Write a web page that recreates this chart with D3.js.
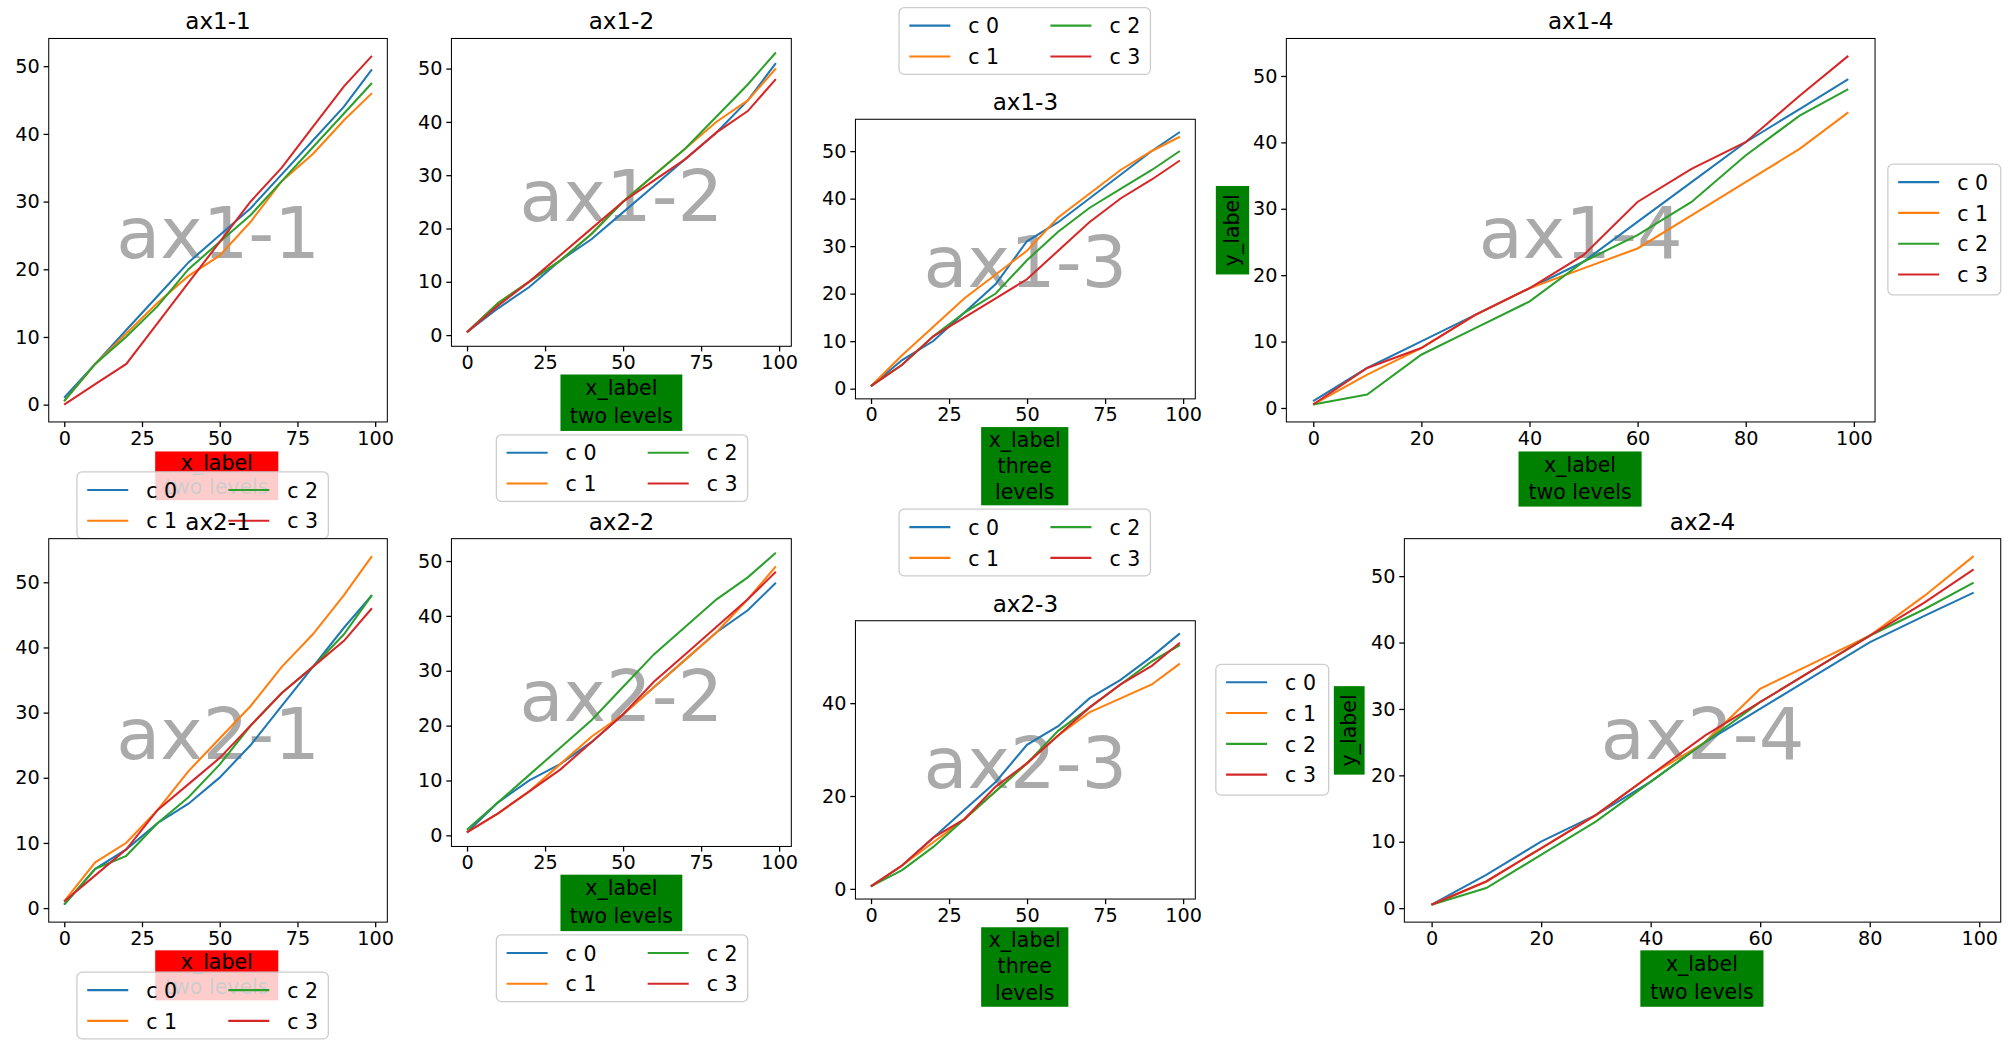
<!DOCTYPE html>
<html><head><meta charset="utf-8">
<script src="https://cdn.jsdelivr.net/npm/d3@7"></script>
<style>body{margin:0;background:#fff}svg{font-family:"DejaVu Sans",sans-serif}</style>
</head><body><svg id="c" width="2011" height="1050" viewBox="0 0 1568 818.7"></svg>
<script>
const xs=[0,10,20,30,40,50,60,70,80,90,99];
const seriesNames=["c 0","c 1","c 2","c 3"];
const colors=["#1f77b4","#ff7f0e","#2ca02c","#d62728"];
const ax1_1=[[1,6,11,16,21,25,29,34,39,44,49.5],[0.5,6,10.5,15,19,22,27,33,37,42,46],[0.5,6,10,14.5,20,24,28,33,38,43,47.5],[0,3,6,12,18,24,30,35,41,47,51.5]];
const ax1_2=[[0.5,5,9,14,18,23,28,33,38,44,51],[0.5,6,10,14,19,25,30,35,40,44,50],[0.5,6,10,14,19,25,30,35,41,47,53],[0.5,5.5,10,15,20,25,29,33,38,42,48]];
const ax1_3=[[0.5,6,10,16,22,31,35,40,45,50,54],[0.5,7,13,19,24,29,36,41,46,50,53],[0.5,5,11,16,20,27,33,38,42,46,50],[0.5,5,11,15,19,23,29,35,40,44,48]];
const ax1_4=[[1,6,10,14,18,22,28,34,40,45,49.5],[0.5,5,9,14,18,21,24,29,34,39,44.5],[0.5,2,8,12,16,22,26,31,38,44,48],[0.5,6,9,14,18,23,31,36,40,47,53]];
const ax2_1=[[0.5,6,9,13,16,20,25,31,37,43,48],[1,7,10,15,21,26,31,37,42,48,54],[0.5,6,8,13,17,22,28,33,37,42,48],[1,5,9,15,19,23,28,33,37,41,46]];
const ax2_2=[[0.5,6,10,13,17,22,27,32,37,41,46],[0.5,4,8,13,18,22,27,32,37,43,49],[1,6,11,16,21,27,33,38,43,47,51.5],[0.5,4,8,12,17,22,28,33,38,43,48]];
const ax2_3=[[0.5,5,11,17,23,31,35,41,45,50,55],[0.5,5,10,15,21,27,33,38,41,44,48.5],[0.5,4,9,15,21,27,34,39,44,49,52.5],[0.5,5,11,15,22,27,33,39,44,48,53]];
const ax2_4=[[0.5,5,10,14,19,25,30,35,40,44,47.5],[0.5,4,9,14,20,25,33,37,41,47,53],[0.5,3,8,13,19,25,31,36,41,45,49],[0.5,4,9,14,20,26,31,36,41,46,51]];
const titles=["ax1-1","ax1-2","ax1-3","ax1-4","ax2-1","ax2-2","ax2-3","ax2-4"];
const xlabels=[["x_label","two levels"],["x_label","two levels"],["x_label","three","levels"],["x_label","two levels"]];
const panels=[
 {t:0,d:ax1_1,b:[38,30,302,329],xt:25,yt:10,xl:{r:[121,352,217,390],c:"red",l:0},lg:{x:60,y:368,cols:2}},
 {t:1,d:ax1_2,b:[352,30,617,270],xt:25,yt:10,xl:{r:[437,292,532,336],c:"green",l:1},lg:{x:387,y:339,cols:2}},
 {t:2,d:ax1_3,b:[667,93,932,311],xt:25,yt:10,xl:{r:[765,333,833,394],c:"green",l:2},lg:{x:701,y:6,cols:2}},
 {t:3,d:ax1_4,b:[1003,30,1462,329],xt:20,yt:10,xl:{r:[1184,352,1280,395],c:"green",l:3},yl:[948,145,974,214],lg:{x:1472,y:128,cols:1}},
 {t:4,d:ax2_1,b:[38,420,302,719],xt:25,yt:10,xl:{r:[121,741,217,780],c:"red",l:0},lg:{x:60,y:758,cols:2}},
 {t:5,d:ax2_2,b:[352,420,617,660],xt:25,yt:10,xl:{r:[437,682,532,726],c:"green",l:1},lg:{x:387,y:729,cols:2}},
 {t:6,d:ax2_3,b:[667,484,932,701],xt:25,yt:20,xl:{r:[765,723,833,785],c:"green",l:2},lg:{x:701,y:397,cols:2}},
 {t:7,d:ax2_4,b:[1095,420,1560,719],xt:20,yt:10,xl:{r:[1279,741,1375,785],c:"green",l:3},yl:[1040,535,1064,604],lg:{x:948,y:518,cols:1}}
];
const svg=d3.select("#c");
panels.forEach(p=>{
 const [x0,y0,x1,y1]=p.b;
 const all=p.d.flat(), mn=d3.min(all), mx=d3.max(all), r=mx-mn;
 const x=d3.scaleLinear().domain([-4.95,103.95]).range([x0,x1]);
 const y=d3.scaleLinear().domain([mn-0.05*r,mx+0.05*r]).range([y1,y0]);
 const g=svg.append("g");
 g.append("text").attr("x",(x0+x1)/2).attr("y",(y0+y1)/2+22).attr("text-anchor","middle").attr("font-size",56).attr("fill","#aaa").text(titles[p.t]);
 const line=d3.line().x((d,i)=>x(xs[i])).y(d=>y(d));
 p.d.forEach((s,k)=>g.append("path").attr("d",line(s)).attr("fill","none").attr("stroke",colors[k]).attr("stroke-width",1.6));
 g.append("rect").attr("x",x0).attr("y",y0).attr("width",x1-x0).attr("height",y1-y0).attr("fill","none").attr("stroke","#000").attr("stroke-width",0.8);
 const xa=g.append("g").attr("transform",`translate(0,${y1})`).call(d3.axisBottom(x).tickValues(d3.range(0,101,p.xt)).tickSize(4).tickPadding(3));
 const ya=g.append("g").attr("transform",`translate(${x0},0)`).call(d3.axisLeft(y).tickValues(d3.range(0,mx+0.05*r,p.yt)).tickSize(4).tickPadding(3));
 [xa,ya].forEach(a=>{a.select(".domain").remove();a.selectAll("text").attr("font-size",15).attr("font-family","DejaVu Sans").attr("fill","#000");a.selectAll("line").attr("stroke","#000");});
 g.append("text").attr("x",(x0+x1)/2).attr("y",y0-7).attr("text-anchor","middle").attr("font-size",18).text(titles[p.t]);
 const xr=p.xl.r, lines=xlabels[p.xl.l];
 g.append("rect").attr("x",xr[0]).attr("y",xr[1]).attr("width",xr[2]-xr[0]).attr("height",xr[3]-xr[1]).attr("fill",p.xl.c);
 const lh=(xr[3]-xr[1])/lines.length;
 lines.forEach((l,i)=>g.append("text").attr("x",(xr[0]+xr[2])/2).attr("y",xr[1]+lh*(i+0.5)+5).attr("text-anchor","middle").attr("font-size",16).text(l));
 if(p.yl){const [a,b,c,d]=p.yl;
  g.append("rect").attr("x",a).attr("y",b).attr("width",c-a).attr("height",d-b).attr("fill","green");
  g.append("text").attr("transform",`translate(${(a+c)/2+5},${(b+d)/2}) rotate(-90)`).attr("text-anchor","middle").attr("font-size",16).text("y_label");}
 const L=p.lg, w=L.cols==2?196:88, h=L.cols==2?52:102;
 const lg=svg.append("g");
 lg.append("rect").attr("x",L.x).attr("y",L.y).attr("width",w).attr("height",h).attr("rx",4).attr("fill","#fff").attr("fill-opacity",0.8).attr("stroke","#ccc");
 seriesNames.forEach((n,k)=>{
  const col=L.cols==2?Math.floor(k/2):0, row=L.cols==2?k%2:k;
  const lx=L.x+8+col*110, ly=L.y+14+row*24;
  lg.append("line").attr("x1",lx).attr("x2",lx+32).attr("y1",ly).attr("y2",ly).attr("stroke",colors[k]).attr("stroke-width",1.6);
  lg.append("text").attr("x",lx+46).attr("y",ly+6).attr("font-size",16).text(n);
 });
});
</script></body></html>
